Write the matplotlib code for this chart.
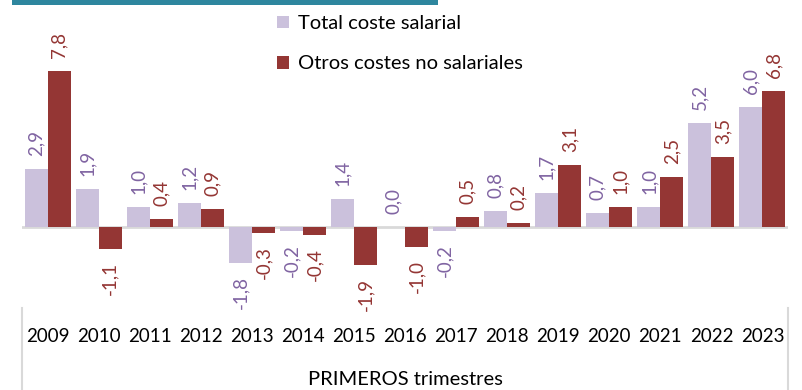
import matplotlib
matplotlib.use("Agg")
import matplotlib.pyplot as plt
import numpy as np
from matplotlib.lines import Line2D
from matplotlib.patches import Rectangle

plt.rcParams['font.family'] = ['Lato', 'DejaVu Sans']

years = ["2009", "2010", "2011", "2012", "2013", "2014", "2015", "2016",
         "2017", "2018", "2019", "2020", "2021", "2022", "2023"]
total_coste = [2.9, 1.9, 1.0, 1.2, -1.8, -0.2, 1.4, 0.0, -0.2, 0.8, 1.7, 0.7, 1.0, 5.2, 6.0]
otros_costes = [7.8, -1.1, 0.4, 0.9, -0.3, -0.4, -1.9, -1.0, 0.5, 0.2, 3.1, 1.0, 2.5, 3.5, 6.8]
series_names = ["Total coste salarial", "Otros costes no salariales"]
xlabel_text = "PRIMEROS trimestres"

c_total = "#cbc1dc"
c_otros = "#943634"
c_total_lbl = "#8064a2"
c_otros_lbl = "#943634"

W, H = 802, 390
fig = plt.figure(figsize=(W / 100, H / 100), dpi=100)
ax = fig.add_axes([22 / W, (H - 307) / H, 766 / W, 300 / H])

x = np.arange(len(years))
bw = 0.45
bars_t = ax.bar(x - bw / 2, total_coste, bw, color=c_total, label=series_names[0])
bars_o = ax.bar(x + bw / 2, otros_costes, bw, color=c_otros, label=series_names[1])

ax.set_xlim(-0.5, len(years) - 0.5)
ax.set_ylim(-4, 11)
ax.axhline(0, color="#d9d9d9", lw=2, zorder=0)

for bars, vals, col in ((bars_t, total_coste, c_total_lbl), (bars_o, otros_costes, c_otros_lbl)):
    for b, v in zip(bars, vals):
        xc = b.get_x() + b.get_width() / 2
        neg = v < 0
        ax.annotate(f"{v:.1f}".replace(".", ","), (xc, v),
                    xytext=(0, -9.5 if neg else 9.5), textcoords="offset points",
                    rotation=90, ha="center", va="top" if neg else "bottom",
                    fontsize=13.5, color=col)

for s in ax.spines.values():
    s.set_visible(False)
ax.set_yticks([])
ax.set_xticks(x)
ax.set_xticklabels(years, fontsize=13.5, color="#000000")
ax.tick_params(axis="x", length=0, pad=15)
ax.set_xlabel(xlabel_text, fontsize=14.5, labelpad=19)

# category frame lines below the plot
for px in (22, 788):
    fig.add_artist(Line2D([px / W, px / W], [0, (H - 308) / H],
                          color="#d9d9d9", lw=1.5))

# header strip
fig.add_artist(Rectangle((12 / W, (H - 5) / H), 426 / W, 5 / H,
                         color="#2e869e", lw=0))

leg = fig.legend(handles=[bars_t, bars_o], labels=series_names,
                 loc="upper left", bbox_to_anchor=(267 / W, 1 - 5 / H),
                 frameon=False, fontsize=14.5, handlelength=0.6, handleheight=0.6,
                 handletextpad=0.45, labelspacing=1.15, borderpad=0)

fig.savefig("out.png", dpi=100)
